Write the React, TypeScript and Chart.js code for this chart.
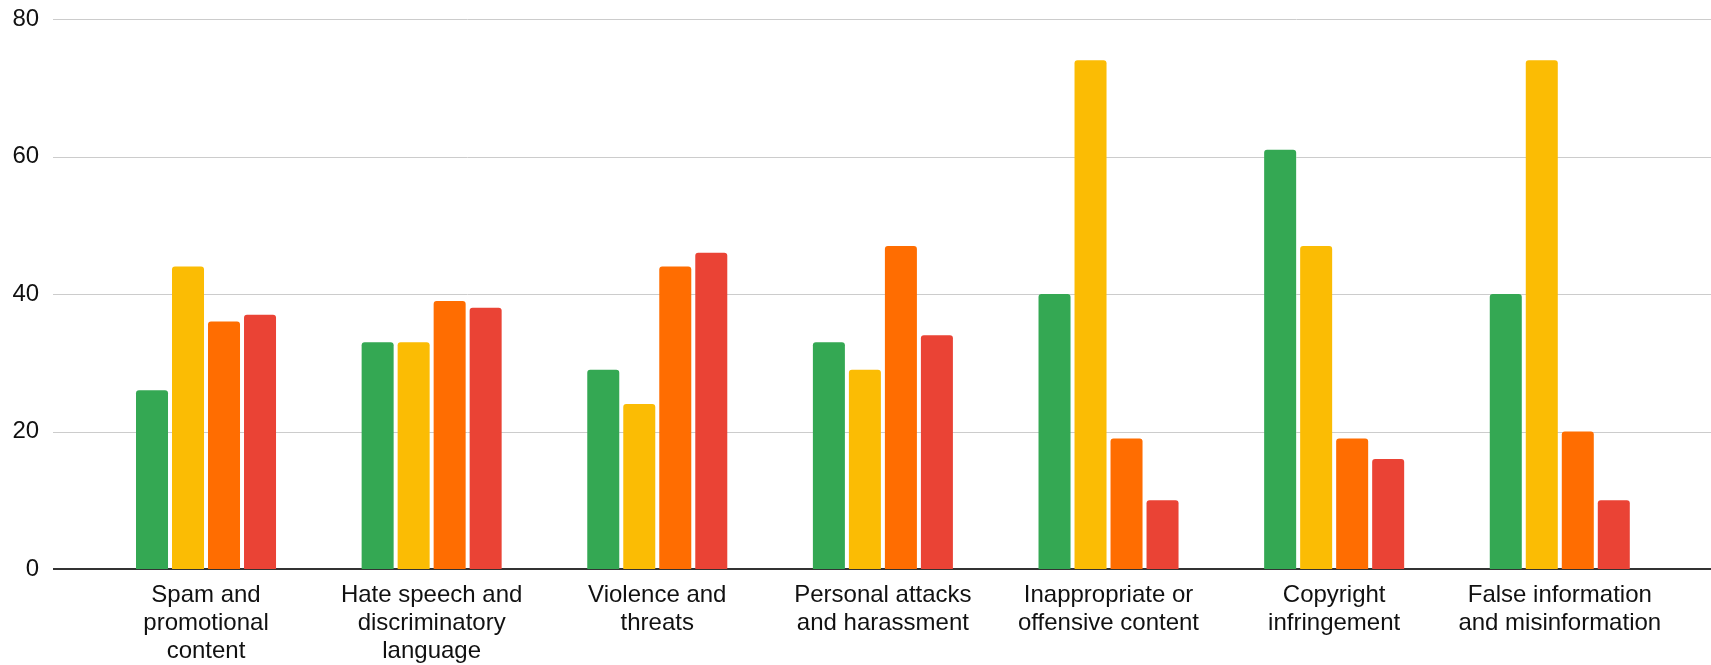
import React, { useEffect, useRef } from "react";
import { Chart, registerables } from "chart.js";

Chart.register(...registerables);

const categories: string[][] = [
  ["Spam and", "promotional", "content"],
  ["Hate speech and", "discriminatory", "language"],
  ["Violence and", "threats"],
  ["Personal attacks", "and harassment"],
  ["Inappropriate or", "offensive content"],
  ["Copyright", "infringement"],
  ["False information", "and misinformation"],
];

const seriesGreen = [26, 33, 29, 33, 40, 61, 40];
const seriesYellow = [44, 33, 24, 29, 74, 47, 74];
const seriesOrange = [36, 39, 44, 47, 19, 19, 20];
const seriesRed = [37, 38, 46, 34, 10, 16, 10];

const yTicks = [0, 20, 40, 60, 80];

const FONT = "'Liberation Sans', Arial, sans-serif";

const gridPlugin = {
  id: "extendedGrid",
  beforeDatasetsDraw(chart: any) {
    const y = chart.scales.y;
    const ctx = chart.ctx;
    ctx.save();
    for (const v of yTicks) {
      const py = Math.round(y.getPixelForValue(v));
      ctx.beginPath();
      if (v === 0) {
        ctx.strokeStyle = "#333333";
        ctx.lineWidth = 2;
        ctx.moveTo(53, py);
        ctx.lineTo(chart.width, py);
      } else {
        ctx.strokeStyle = "#cccccc";
        ctx.lineWidth = 1;
        ctx.moveTo(53, py + 0.5);
        ctx.lineTo(chart.width, py + 0.5);
      }
      ctx.stroke();
    }
    ctx.restore();
  },
};

export default function App() {
  const ref = useRef<HTMLCanvasElement | null>(null);
  useEffect(() => {
    document.body.style.margin = "0";
    const canvas = ref.current;
    if (!canvas) return;
    const mk = (data: number[], color: string) => ({
      data,
      backgroundColor: color,
      borderWidth: 0,
      borderRadius: 3,
      categoryPercentage: 0.6383,
      barPercentage: 0.8889,
    });
    const chart = new Chart(canvas, {
      type: "bar",
      data: {
        labels: categories as any,
        datasets: [
          mk(seriesGreen, "#34A853"),
          mk(seriesYellow, "#FBBC04"),
          mk(seriesOrange, "#FF6D01"),
          mk(seriesRed, "#EA4335"),
        ],
      },
      options: {
        animation: false,
        responsive: false,
        devicePixelRatio: 1,
        layout: { padding: { left: 0, right: 38.4, top: 19, bottom: 0 } },
        plugins: { legend: { display: false }, tooltip: { enabled: false } },
        scales: {
          x: {
            grid: { display: false, drawTicks: false },
            border: { display: false },
            ticks: {
              color: "#111111",
              font: { family: FONT, size: 24, lineHeight: 1.18 },
              padding: 12,
              maxRotation: 0,
              autoSkip: false,
            },
            afterFit: (s: any) => {
              s.height = 96;
            },
          },
          y: {
            min: 0,
            max: 80,
            grid: { display: false, drawTicks: false },
            border: { display: false },
            ticks: {
              stepSize: 20,
              color: "#111111",
              font: { family: FONT, size: 24 },
              padding: 54,
            },
            afterFit: (s: any) => {
              s.width = 93.2;
              s.paddingTop = 14;
              s.paddingBottom = 14;
            },
          },
        },
      },
      plugins: [gridPlugin],
    });
    return () => chart.destroy();
  }, []);
  return (
    <div style={{ width: 1711, height: 665 }}>
      <canvas ref={ref} width={1711} height={665} style={{ display: "block" }} />
    </div>
  );
}
